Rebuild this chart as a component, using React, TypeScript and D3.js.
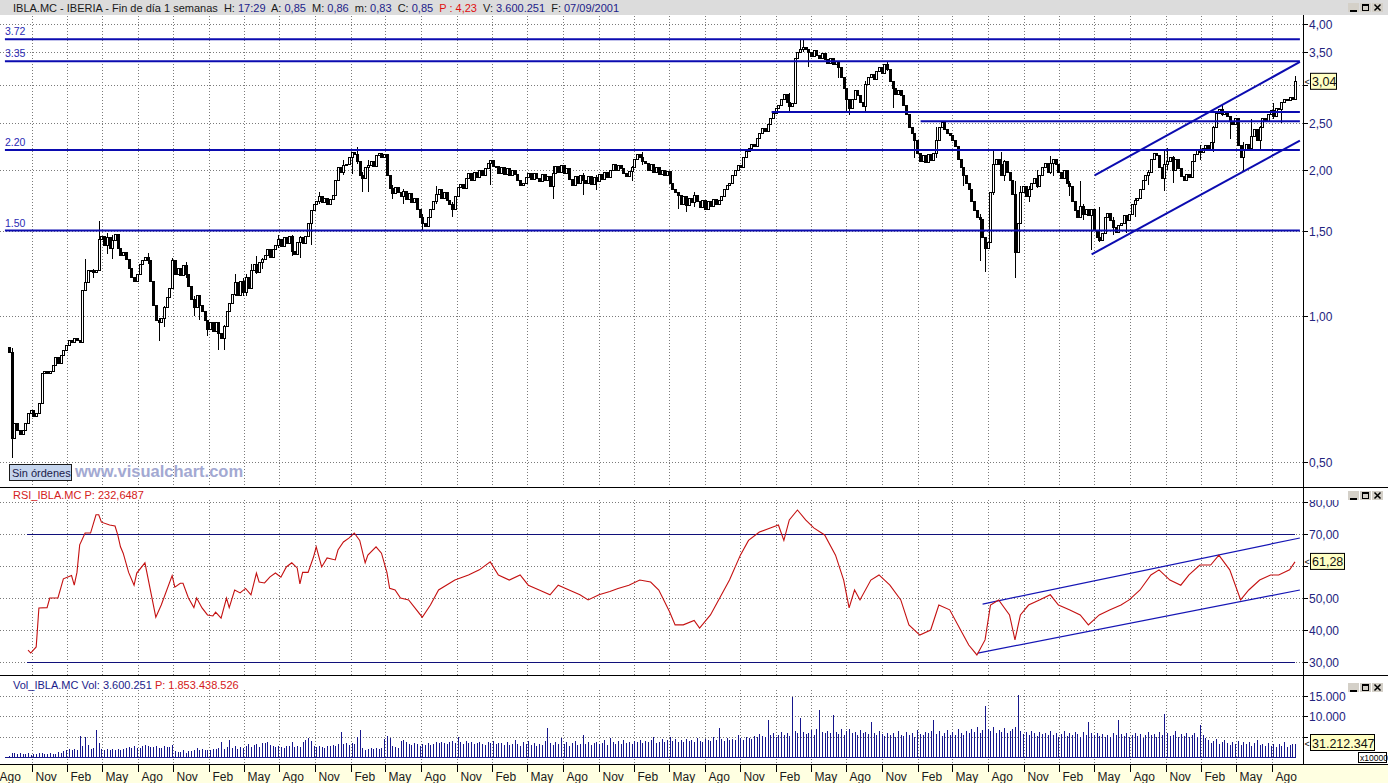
import React, { useEffect, useRef } from 'react';
import * as d3 from 'd3';

// weekly closes, IBLA.MC
const closes = [
  0.84, 0.56,
  0.60, 0.58, 0.57, 0.58, 0.60,
  0.63, 0.64, 0.62, 0.63,
  0.66, 0.76,
  0.77, 0.76, 0.77,
  0.79, 0.82, 0.80, 0.83, 0.85,
  0.87, 0.89, 0.88, 0.90, 0.89, 0.88,
  1.13,
  1.17, 1.24, 1.24, 1.23, 1.24,
  1.44,
  1.46, 1.40, 1.45, 1.38, 1.43, 1.47,
  1.38, 1.33, 1.35, 1.31,
  1.25, 1.20, 1.18, 1.22,
  1.28, 1.30, 1.32, 1.30,
  1.18, 1.05, 0.98,
  0.97, 0.99,
  1.04, 1.09, 1.14,
  1.30, 1.22,
  1.25, 1.21, 1.27, 1.22,
  1.15, 1.08, 1.04, 1.10,
  1.05, 1.02,
  0.98, 0.94, 0.97, 0.93, 0.97, 0.92, 0.90, 0.95,
  1.02, 1.06,
  1.11, 1.17, 1.10, 1.18, 1.12, 1.20, 1.14,
  1.24, 1.28, 1.23, 1.29, 1.31,
  1.33, 1.37, 1.32, 1.37,
  1.40, 1.44, 1.39, 1.45, 1.41, 1.46,
  1.36, 1.34,
  1.42, 1.45, 1.41, 1.46,
  1.55, 1.65, 1.70,
  1.72, 1.76, 1.71, 1.75, 1.70, 1.74, 1.77,
  1.90, 2.02,
  1.98, 2.04, 2.05,
  2.12, 2.17, 2.15,
  2.08, 1.95, 1.92, 2.02,
  2.04, 2.08, 2.03,
  2.14, 2.16, 2.12, 2.15,
  1.95,
  1.83, 1.79, 1.84, 1.80,
  1.76, 1.81, 1.74, 1.79, 1.71, 1.75,
  1.66, 1.60, 1.55, 1.53,
  1.60, 1.66,
  1.72, 1.78, 1.82, 1.75, 1.80, 1.73,
  1.70, 1.66,
  1.76, 1.84, 1.87, 1.83,
  1.92, 1.97, 1.90, 1.98, 1.93, 2.00, 1.95, 2.01,
  2.06, 2.09, 2.03,
  2.03, 1.97, 2.02, 1.96, 2.01, 1.95, 2.00, 1.96,
  1.90, 1.86, 1.88,
  1.93, 1.97, 1.91, 1.97, 1.92, 1.89, 1.96, 1.90, 1.94,
  1.85,
  1.97, 2.03, 1.98, 2.04, 1.97, 2.01,
  1.91, 1.86, 1.94, 1.88, 1.95, 1.90,
  1.88, 1.94, 1.87, 1.93, 1.89,
  1.96, 1.91, 1.98, 1.93,
  2.00, 2.05, 2.00, 2.04, 2.01,
  1.97, 1.94, 1.99, 2.02,
  2.10, 2.15, 2.12, 2.08,
  2.06, 2.00, 2.05, 1.98, 2.02, 1.96, 2.00, 1.95, 1.99,
  1.88, 1.82, 1.80,
  1.77, 1.70, 1.76, 1.69, 1.75, 1.71, 1.77,
  1.72, 1.67, 1.73, 1.66, 1.72, 1.68, 1.74, 1.70,
  1.73, 1.76, 1.82, 1.86, 1.88,
  1.95, 2.00, 2.04, 2.02,
  2.12, 2.18, 2.22, 2.26, 2.24,
  2.32, 2.38, 2.44, 2.40, 2.48,
  2.55, 2.62, 2.68, 2.72,
  2.80, 2.86, 2.76, 2.70, 2.74,
  3.40,
  3.50, 3.55, 3.58, 3.54,
  3.50, 3.42, 3.52, 3.44, 3.40, 3.47,
  3.38, 3.32, 3.40, 3.30, 3.34, 3.26,
  3.10, 2.95, 2.80, 2.68,
  2.80, 2.92, 2.85, 2.76, 2.70,
  3.00, 3.10, 3.15, 3.08,
  3.20, 3.25, 3.16, 3.30, 3.22,
  3.05,
  2.95, 2.86, 2.92, 2.85,
  2.72, 2.60, 2.45, 2.38, 2.30,
  2.16, 2.08, 2.14, 2.07, 2.15, 2.09, 2.16,
  2.30,
  2.45, 2.50, 2.42, 2.38, 2.36,
  2.30, 2.24,
  2.10, 2.02, 1.95, 1.88, 1.82,
  1.72, 1.65, 1.60, 1.58,
  1.45, 1.38, 1.42,
  1.80, 2.05,
  2.10, 2.05, 1.95, 2.08, 1.98,
  1.90, 1.78,
  1.35, 1.55,
  1.80, 1.85, 1.76, 1.82,
  1.88, 1.92, 1.85, 1.95,
  2.02, 2.06, 1.98, 2.06, 2.10, 2.05,
  1.98, 1.92, 2.00, 1.88, 1.85,
  1.72, 1.65, 1.60, 1.68, 1.62,
  1.66, 1.61, 1.66,
  1.50, 1.45, 1.43, 1.48,
  1.60, 1.63, 1.57,
  1.52, 1.49, 1.54, 1.55,
  1.61, 1.57, 1.62,
  1.70, 1.73, 1.75,
  1.82, 1.90, 1.95, 1.98,
  2.10, 2.16, 2.14,
  2.02, 1.92, 2.05,
  2.08, 2.12, 2.00, 2.10, 2.01,
  1.94, 1.90, 1.96, 1.93,
  2.08, 2.15, 2.20, 2.17, 2.22,
  2.25, 2.20, 2.28,
  2.45,
  2.62, 2.66, 2.60, 2.64, 2.58,
  2.52, 2.48, 2.55,
  2.25, 2.12,
  2.20, 2.26, 2.22,
  2.35, 2.42, 2.30, 2.45,
  2.55, 2.52,
  2.60, 2.65, 2.58, 2.68, 2.66,
  2.75, 2.80, 2.78, 2.82,
  2.80, 3.04,
];
const firstOpen = 0.86;

// weeks with visible shadows: [week, high, low]
const shadows: [number, number, number][] = [
  [1, 0.86, 0.51], [28, 1.31, 1.2], [31, 1.25, 1.2], [33, 1.57, 1.24], [36, 1.48, 1.34], [38, 1.47, 1.31],
  [51, 1.35, 1.28], [55, 0.99, 0.89], [57, 1.05, 0.95], [60, 1.32, 1.2], [65, 1.29, 1.2], [68, 1.1, 1.0],
  [70, 1.08, 0.98], [73, 0.97, 0.91], [77, 0.96, 0.85], [79, 0.96, 0.85], [83, 1.22, 1.1], [86, 1.2, 1.1],
  [87, 1.22, 1.1], [89, 1.28, 1.18], [91, 1.33, 1.22], [93, 1.32, 1.25], [99, 1.47, 1.38], [104, 1.47, 1.33],
  [107, 1.46, 1.32], [111, 1.5, 1.4], [114, 1.8, 1.7], [123, 2.1, 1.95], [126, 2.18, 1.96], [128, 2.23, 2.06],
  [130, 1.98, 1.8], [132, 2.1, 1.8], [141, 1.86, 1.74], [145, 1.83, 1.7], [152, 1.62, 1.5], [157, 1.85, 1.7],
  [163, 1.72, 1.6], [177, 2.1, 1.86], [200, 2.04, 1.74], [211, 1.97, 1.78], [216, 1.95, 1.82],
  [229, 2.04, 1.9], [233, 2.18, 2.05], [246, 1.78, 1.66], [249, 1.76, 1.64], [252, 1.8, 1.68],
  [287, 2.88, 2.64], [291, 3.71, 3.48], [292, 3.71, 3.5], [294, 3.52, 3.26], [305, 3.36, 3.1],
  [308, 2.95, 2.62], [309, 2.8, 2.6], [315, 3.05, 2.62], [323, 3.35, 3.2], [325, 2.98, 2.69],
  [333, 2.38, 2.12], [341, 2.45, 2.12], [351, 1.98, 1.85], [357, 1.62, 1.3], [359, 1.45, 1.23],
  [362, 2.21, 1.78], [365, 2.18, 1.94], [366, 2.1, 1.9], [370, 1.9, 1.2], [372, 1.85, 1.57],
  [375, 1.85, 1.72], [378, 2.0, 1.84], [383, 2.14, 1.96], [384, 2.1, 1.94], [390, 1.9, 1.77],
  [394, 1.9, 1.6], [395, 1.7, 1.58], [398, 1.66, 1.37], [401, 1.68, 1.42], [406, 1.6, 1.47],
  [411, 1.58, 1.48], [414, 1.75, 1.6], [419, 2.0, 1.86], [425, 2.2, 1.81], [426, 2.22, 2.0],
  [428, 2.14, 1.88], [438, 2.25, 2.1], [443, 2.47, 2.18], [446, 2.74, 2.58], [449, 2.56, 2.32],
  [454, 2.28, 1.98], [457, 2.55, 2.28], [460, 2.47, 2.2], [465, 2.75, 2.55], [468, 2.72, 2.5],
  [473, 3.12, 2.8],
];

// drawn support / resistance: [price, fromWeek, toWeek]
const levels: [number, number, number][] = [
  [3.72, -1.5, 474.8], [3.35, -1.5, 474.8], [2.2, -1.5, 474.8], [1.5, -1.5, 474.8],
  [2.635, 280.5, 474.8], [2.52, 335.3, 474.8],
];
const levelLabels = ['3.72', '3.35', '2.20', '1.50'];
const priceChannel: [number, number][][] = [
  [[399.3, 1.95], [474.8, 3.34]],
  [[398.2, 1.34], [474.8, 2.3]],
];
const priceTicks = [0.5, 1, 1.5, 2, 2.5, 3, 3.5, 4];
const priceTickLabels = ['0,50', '1,00', '1,50', '2,00', '2,50', '', '3,50', '4,00'];

// RSI: [week, value]
const rsi: [number, number][] = [
  [7, 33.7], [8, 32.8], [10, 34.7], [11, 46.9], [14, 47], [15, 50], [18, 50], [20, 56], [23, 57],
  [24, 54], [25, 58], [26, 66.6], [28, 70.3], [30, 70.3], [32, 76], [33, 76], [34, 73.7], [37, 72.8],
  [39, 72.5], [40, 69.7], [41, 66], [42, 64], [44, 58], [46, 54], [47, 57.8], [50, 61], [54, 44],
  [56, 47.8], [60, 57], [61, 53.4], [63, 54.6], [64, 54.6], [66, 50], [68, 47], [69, 50], [71, 46.9],
  [73, 44.7], [75, 44.4], [76, 45.6], [78, 43.7], [80, 50], [81, 47], [83, 52.5], [85, 51.6], [87, 53],
  [89, 51], [91, 57.8], [92, 55], [94, 54.7], [96, 56.6], [98, 57.8], [100, 56.5], [102, 59.7],
  [104, 61], [106, 59.4], [107, 54.4], [108, 58], [110, 58], [112, 62.8], [113, 66], [115, 59.7],
  [117, 62.5], [120, 61.9], [121, 65], [123, 67.5], [125, 68.7], [127, 70.3], [129, 68], [131, 61],
  [132, 63.4], [135, 66], [137, 64], [139, 58], [140, 53], [142, 52.5], [144, 50], [147, 49.4],
  [152, 44], [155, 47.8], [158, 52.5], [164, 55.6], [169, 57.2], [173, 58.8], [177, 61.3],
  [180, 57.2], [184, 55.6], [188, 57.2], [191, 54], [195, 52.5], [199, 51], [202, 54], [206, 52.5],
  [210, 51], [213, 49.4], [217, 51], [221, 52], [224, 53], [228, 54], [232, 55.6], [236, 55],
  [239, 52.5], [243, 45.6], [245, 41.6], [248, 41.6], [252, 43], [254, 40.6], [258, 44.7],
  [261, 49.4], [265, 55.6], [269, 63.4], [272, 68], [276, 70.6], [280, 71.9], [283, 72.8], [285, 68],
  [287, 74.4], [290, 77.5], [293, 74.4], [296, 71.9], [300, 69.7], [304, 63.4], [307, 55.6],
  [309, 46.9], [311, 52.5], [313, 49.4], [317, 55.6], [320, 57.2], [324, 54], [328, 49.4],
  [331, 41.6], [335, 38.4], [339, 40], [342, 47.8], [346, 46.3], [350, 40], [353, 35.3], [356, 32.2],
  [359, 36.9], [361, 47.8], [364, 49.4], [368, 44.7], [370, 36.9], [372, 44.7], [375, 47.8],
  [379, 49.4], [383, 51], [386, 47.8], [390, 46.3], [394, 44.7], [397, 41.6], [401, 44.7],
  [405, 46.3], [409, 47.8], [412, 49.4], [416, 52.5], [420, 57.2], [423, 58.8], [427, 55.6], [431, 54],
  [434, 57.2], [438, 60.3], [442, 60.3], [445, 63.4], [449, 58.8], [453, 49.4], [456, 52.5],
  [460, 55.6], [464, 57.2], [467, 57.2], [471, 58.8], [473, 61.28],
];
const rsiLevels: [number, number, number][] = [[70, 6.6, 473], [30, 6.6, 473]];
const rsiChannel: [number, number][][] = [
  [[358.1, 48.1], [474.8, 68.75]],
  [[356.3, 32.8], [474.8, 52.5]],
];
const rsiTicks = [30, 40, 50, 60, 70, 80];
const rsiTickLabels = ['30,00', '40,00', '50,00', '', '70,00', '80,00'];

// weekly volume, in units of 10000 shares
const volume = [
  300, 1100, 900, 800, 1000, 700, 800, 900, 600, 700, 800, 1100, 900, 700, 800, 1000, 800, 700, 1200, 900,
  1500, 1800, 2000, 1600, 1900, 1700,
  5100, 2700, 5000, 3000, 2000, 2200, 6600, 3400,
  1900, 1800, 2000, 1700, 1900, 1800, 2000, 1700, 1900,
  2300, 2500, 2100, 2600, 2200,
  2300, 2800, 2900, 2700, 2400, 2500, 2600, 2300, 2200, 2700, 2400, 2500,
  3000,
  1500, 1200, 1300, 1700, 1100, 1500, 1400, 1800,
  2100, 1800, 2000, 1600, 1800, 1700, 2000, 1900,
  2200, 3700, 2000, 2400, 4100,
  2200, 2600, 1900, 2500, 2300,
  2800, 3300, 2400, 2900, 3300, 2500, 3500, 3400, 3600,
  2900, 2600, 2400, 2700, 2500, 2300, 2800, 2600,
  3800, 2400, 2700, 2500,
  3600, 4300, 4700, 3900,
  2600, 2400, 2800, 2500, 2300, 2700, 2600, 2900,
  2700, 3100, 6200, 3200, 3500, 3000, 3400, 3100, 5000, 6600,
  2200, 1800, 2000, 2100, 1900, 2300, 2000, 2200, 4500, 5100, 4700, 2600, 2400, 2200,
  3900, 4200, 3600,
  3200, 2900, 3400, 3100, 2800, 3300, 3000, 3500, 2900, 3200,
  3600, 3400, 3800, 3500, 3300, 3700, 3900, 3400, 5000,
  3600, 3200, 3900, 3400, 3700, 3100, 3500, 3800, 3300, 3000, 3600, 3400, 3900, 3200, 3500,
  3400, 3000, 3700, 2900, 3300, 4100, 3100, 2800, 3600, 3200,
  3900, 3000, 3500, 2700, 3300, 2900, 4000, 7100, 3400, 3000,
  3700, 3200, 4700, 3100, 3600, 2800, 3400, 3900, 3000, 3300,
  5400, 3100, 3600, 2900, 3400, 3800, 3200, 3500, 4100, 3000,
  4700, 3600, 3300, 3900, 3100, 4200, 3500, 3800, 3200, 4000,
  3600, 4300, 3400, 3900, 3700, 4100, 5000, 3500, 3800, 4400,
  3600, 4200, 4900, 3900, 4500, 3700, 4100, 3600, 4400, 3900,
  4300, 3800, 4600, 4000, 3700, 4500, 4100, 3900, 4800, 4200,
  7100, 4400, 3900, 4700, 4100, 4500, 4300, 5500, 4600, 4200,
  5000, 4700, 4400, 5200, 4800, 5600, 5100, 4900, 9100, 5300,
  5800, 5000, 5500, 6100, 5400, 5900, 5200, 14700, 6300, 5800,
  9600, 6200, 5700, 6000, 6600, 5500, 6800, 11500, 6100, 5800,
  6400, 5900, 10300, 6200, 5600, 6900, 5400, 6300, 7000, 5800,
  6100, 5500, 6600, 5900, 6200, 5700, 8600, 6000, 5400, 6300,
  5600, 5100, 6000, 5300, 5800, 4900, 6400, 5500, 5200, 6100,
  5400, 5900, 5000, 6700, 5600, 5300, 6200, 5800, 6500, 9100,
  5700, 6300, 5200, 5900, 6600, 5400, 6100, 5500, 6800, 6000,
  5300, 6400, 5800, 6900, 6200, 7300, 6000, 6600, 12500, 7000,
  6400, 7500, 5900, 6700, 6100, 7200, 5800, 6500, 6900, 7400,
  15200, 6300, 5700, 6100, 5400, 6400, 5800, 5200, 6200, 5600,
  5900, 5300, 6300, 5500, 6000, 4900, 5700, 6400, 5100, 5800,
  5400, 6100, 5600, 5000, 6200, 5500, 8600, 5900, 5300, 6000,
  5200, 5700, 5000, 5500, 4800, 5900, 5300, 9100, 5600, 5100,
  5800, 4900, 5400, 6000, 5200, 5600, 4700, 5500, 6100, 5300,
  5700, 5000, 6200, 5400, 10600, 5800, 5100, 5500, 6300, 4900,
  5600, 5200, 6000, 4800, 5400, 5900, 5000, 7900, 5300, 4600,
  4100, 3400, 3900, 4500, 3200, 3700, 4200, 3500, 3000, 3800,
  3300, 4000, 2900, 3600, 3100, 3800, 2700, 3400, 4100, 2900,
  3200, 2600, 3500, 2800, 3300, 2500, 3100, 2700, 3600, 2400,
  2900, 3200, 3121,
];
const volTicks = [5000, 10000, 15000];
const volTickLabels = ['', '10.000', '15.000'];

const monthNames = ['Ene', 'Feb', 'Mar', 'Abr', 'May', 'Jun', 'Jul', 'Ago', 'Sep', 'Oct', 'Nov', 'Dic'];

const FONT = '"Liberation Sans", Arial, sans-serif';
const NAVY = '#1c1c8a';
const LINE_BLUE = '#0b0bb0';
const AXIS_X = 1303.5;

const App = () => {
  const svgRef = useRef(null);

  useEffect(() => {
    if (!svgRef.current) return;
    const svg = d3.select(svgRef.current);
    svg.selectAll('*').remove();

    const n = closes.length;
    const x = d3.scaleLinear().domain([0, n - 1]).range([9, 1295]);
    const xTime = d3.scaleTime()
      .domain([new Date(1992, 10, 1), new Date(2001, 7, 1)])
      .range([31.7, 1271.7]);
    const yP = d3.scaleLog().domain([0.5, 4]).range([462, 24]);
    const yR = d3.scaleLinear().domain([30, 80]).range([662, 502]);
    const yV = d3.scaleLinear().domain([0, 15000]).range([757, 696]);

    svg.append('rect').attr('width', 1388).attr('height', 783).attr('fill', '#fff');

    const defs = svg.append('defs');
    defs.append('clipPath').attr('id', 'cp-price').append('rect')
      .attr('x', 0).attr('y', 15).attr('width', AXIS_X).attr('height', 472);
    defs.append('clipPath').attr('id', 'cp-rsi').append('rect')
      .attr('x', 0).attr('y', 488).attr('width', AXIS_X).attr('height', 187);
    defs.append('clipPath').attr('id', 'cp-raxis').append('rect')
      .attr('x', AXIS_X).attr('y', 500).attr('width', 90).attr('height', 175);

    // title bar
    svg.append('rect').attr('x', 0).attr('y', 0).attr('width', 1388).attr('height', 15).attr('fill', '#dcdcdc');
    const title = svg.append('text').attr('x', 13).attr('y', 11.5)
      .attr('font-family', FONT).attr('font-size', 11).attr('fill', '#1a1a1a');
    const titleParts: [string, string][] = [
      ['IBLA.MC - IBERIA - Fin de día 1 semanas  H: ', '#1a1a1a'], ['17:29', NAVY],
      ['  A: ', '#1a1a1a'], ['0,85', NAVY], ['  M: ', '#1a1a1a'], ['0,86', NAVY],
      ['  m: ', '#1a1a1a'], ['0,83', NAVY], ['  C: ', '#1a1a1a'], ['0,85', NAVY],
      ['  P : 4,23', '#e01010'], ['  V: ', '#1a1a1a'], ['3.600.251', NAVY],
      ['  F: ', '#1a1a1a'], ['07/09/2001', NAVY],
    ];
    titleParts.forEach(([t, c]) => title.append('tspan').attr('fill', c).attr('xml:space', 'preserve').text(t));

    // window buttons
    const buttons = (y0: number) => {
      const g = svg.append('g').attr('stroke', '#000').attr('fill', 'none').attr('shape-rendering', 'crispEdges');
      [1348, 1360, 1372].forEach((bx) =>
        g.append('rect').attr('x', bx).attr('y', y0).attr('width', 11).attr('height', 9)
          .attr('fill', '#d4d0c8').attr('stroke', 'none'));
      g.append('line').attr('x1', 1350).attr('x2', 1357).attr('y1', y0 + 7.5).attr('y2', y0 + 7.5).attr('stroke-width', 2);
      g.append('rect').attr('x', 1362.5).attr('y', y0 + 1.5).attr('width', 6).attr('height', 6);
      g.append('line').attr('x1', 1362.5).attr('x2', 1368.5).attr('y1', y0 + 2).attr('y2', y0 + 2).attr('stroke-width', 1.5);
      g.append('path').attr('d', `M${1374.5},${y0 + 1.5}L${1380.5},${y0 + 7.5}M${1380.5},${y0 + 1.5}L${1374.5},${y0 + 7.5}`)
        .attr('stroke-width', 1.5).attr('shape-rendering', 'auto');
    };
    buttons(3);
    buttons(491);
    buttons(683);

    const months = d3.timeMonths(new Date(1992, 7, 1), new Date(2001, 8, 1), 3);

    const dotted = (g, x1, x2, y1, y2) =>
      g.append('line').attr('x1', x1).attr('x2', x2).attr('y1', y1).attr('y2', y2)
        .attr('stroke', '#7a7a7a').attr('stroke-width', 1).attr('stroke-dasharray', '1,2')
        .attr('shape-rendering', 'crispEdges');

    // vertical grid in all three panes
    const vg = svg.append('g');
    months.forEach((d) => {
      const xx = Math.round(xTime(d)) + 0.5;
      if (xx < 2) return;
      dotted(vg, xx, xx, 16, 487);
      dotted(vg, xx, xx, 500, 675);
      dotted(vg, xx, xx, 690, 764);
    });

    // ---------- price pane ----------
    const pg = svg.append('g').attr('clip-path', 'url(#cp-price)');
    priceTicks.forEach((p) => {
      const yy = Math.round(yP(p)) + 0.5;
      dotted(pg, 0, AXIS_X, yy, yy);
    });

    const candles = closes.map((c, i) => {
      const o = i === 0 ? firstOpen : closes[i - 1];
      const s = shadows.find((d) => d[0] === i);
      return { i, o, c, h: s ? Math.max(s[1], o, c) : Math.max(o, c), l: s ? Math.min(s[2], o, c) : Math.min(o, c) };
    });
    const cg = pg.append('g').attr('shape-rendering', 'crispEdges');
    candles.forEach((d) => {
      const cx = Math.round(x(d.i)) + 0.5;
      cg.append('line').attr('x1', cx).attr('x2', cx).attr('y1', yP(d.h)).attr('y2', yP(d.l))
        .attr('stroke', '#000');
      const top = yP(Math.max(d.o, d.c));
      const bot = yP(Math.min(d.o, d.c));
      cg.append('rect').attr('x', cx - 1).attr('y', top).attr('width', 2).attr('height', Math.max(1, bot - top))
        .attr('fill', d.c < d.o ? '#000' : '#fff').attr('stroke', '#000').attr('stroke-width', 1);
    });

    levels.forEach(([p, a, b]) => {
      pg.append('line').attr('x1', x(a)).attr('x2', x(b)).attr('y1', yP(p)).attr('y2', yP(p))
        .attr('stroke', LINE_BLUE).attr('stroke-width', 2);
    });
    priceChannel.forEach((seg) => {
      pg.append('line').attr('x1', x(seg[0][0])).attr('y1', yP(seg[0][1]))
        .attr('x2', x(seg[1][0])).attr('y2', yP(seg[1][1]))
        .attr('stroke', LINE_BLUE).attr('stroke-width', 2);
    });
    levelLabels.forEach((t, k) => {
      svg.append('text').attr('x', 5).attr('y', yP(levels[k][0]) - 4)
        .attr('font-family', FONT).attr('font-size', 10.5).attr('fill', '#2a2ab4').text(t);
    });

    // sin ordenes + watermark
    svg.append('rect').attr('x', 9.5).attr('y', 464.5).attr('width', 62).attr('height', 16)
      .attr('fill', '#c5d5ee').attr('stroke', '#1a1a1a');
    svg.append('text').attr('x', 12).attr('y', 477).attr('font-family', FONT).attr('font-size', 11)
      .attr('fill', '#1a1a4a').text('Sin órdenes');
    svg.append('text').attr('x', 75).attr('y', 477).attr('font-family', FONT).attr('font-size', 16.5)
      .attr('font-weight', 'bold').attr('fill', '#a3a9d2').text('www.visualchart.com');

    // price axis
    const pa = svg.append('g').attr('font-family', FONT).attr('font-size', 12).attr('fill', '#23237e');
    priceTicks.forEach((p, k) => {
      const yy = Math.round(yP(p)) + 0.5;
      pa.append('line').attr('x1', AXIS_X).attr('x2', AXIS_X + 4).attr('y1', yy).attr('y2', yy)
        .attr('stroke', '#000').attr('shape-rendering', 'crispEdges');
      if (priceTickLabels[k]) pa.append('text').attr('x', 1309).attr('y', yy + 4.5).text(priceTickLabels[k]);
    });

    const valueBox = (yc: number, label: string, w: number) => {
      svg.append('text').attr('x', 1304.5).attr('y', yc + 3.5).attr('font-family', FONT).attr('font-size', 9)
        .attr('fill', '#000').text('<');
      svg.append('rect').attr('x', 1310.5).attr('y', yc - 8.5).attr('width', w).attr('height', 16)
        .attr('fill', '#ffffc4').attr('stroke', '#000');
      svg.append('text').attr('x', 1312).attr('y', yc + 4.5).attr('font-family', FONT).attr('font-size', 12.5)
        .attr('fill', '#111').text(label);
    };
    valueBox(yP(closes[n - 1]), '3,04', 26);

    // ---------- RSI pane ----------
    svg.append('text').attr('x', 13).attr('y', 499).attr('font-family', FONT).attr('font-size', 11)
      .attr('fill', '#d42020').text('RSI_IBLA.MC  P: 232,6487');
    const rg = svg.append('g').attr('clip-path', 'url(#cp-rsi)');
    rsiTicks.forEach((v) => {
      const yy = Math.round(yR(v)) + 0.5;
      dotted(rg, 0, AXIS_X, yy, yy);
    });
    rsiLevels.forEach(([v, a, b]) => {
      const yy = Math.round(yR(v)) + 0.5;
      rg.append('line').attr('x1', x(a)).attr('x2', x(b)).attr('y1', yy).attr('y2', yy)
        .attr('stroke', '#10107a').attr('stroke-width', 1).attr('shape-rendering', 'crispEdges');
    });
    rsiChannel.forEach((seg) => {
      rg.append('line').attr('x1', x(seg[0][0])).attr('y1', yR(seg[0][1]))
        .attr('x2', x(seg[1][0])).attr('y2', yR(seg[1][1]))
        .attr('stroke', '#1515b5').attr('stroke-width', 1.2);
    });
    const rsiLine = d3.line<[number, number]>().x((d) => x(d[0])).y((d) => yR(d[1]));
    rg.append('path').datum(rsi).attr('d', rsiLine).attr('fill', 'none')
      .attr('stroke', '#c41010').attr('stroke-width', 1.1);

    const ra = svg.append('g').attr('clip-path', 'url(#cp-raxis)').attr('font-family', FONT)
      .attr('font-size', 12).attr('fill', '#23237e');
    rsiTicks.forEach((v, k) => {
      const yy = Math.round(yR(v)) + 0.5;
      ra.append('line').attr('x1', AXIS_X).attr('x2', AXIS_X + 4).attr('y1', yy).attr('y2', yy)
        .attr('stroke', '#000').attr('shape-rendering', 'crispEdges');
      if (rsiTickLabels[k]) ra.append('text').attr('x', 1309).attr('y', yy + 4.5).text(rsiTickLabels[k]);
    });
    valueBox(yR(rsi[rsi.length - 1][1]), '61,28', 34);

    // ---------- volume pane ----------
    const vt = svg.append('text').attr('x', 13).attr('y', 689).attr('font-family', FONT).attr('font-size', 11);
    vt.append('tspan').attr('fill', NAVY).text('Vol_IBLA.MC  Vol: 3.600.251  ');
    vt.append('tspan').attr('fill', '#d42020').text('P: 1.853.438.526');

    const vgp = svg.append('g');
    volTicks.forEach((v) => {
      const yy = Math.round(yV(v)) + 0.5;
      dotted(vgp, 0, AXIS_X, yy, yy);
    });
    const bars = svg.append('g').attr('stroke', '#16168c').attr('shape-rendering', 'crispEdges');
    volume.forEach((v, i) => {
      const cx = Math.round(x(i)) + 0.5;
      bars.append('line').attr('x1', cx).attr('x2', cx).attr('y1', yV(0)).attr('y2', yV(v));
    });
    bars.append('line').attr('x1', 5).attr('x2', 1296).attr('y1', Math.round(yV(0)) + 0.5).attr('y2', Math.round(yV(0)) + 0.5);

    const va = svg.append('g').attr('font-family', FONT).attr('font-size', 12).attr('fill', '#23237e');
    volTicks.forEach((v, k) => {
      const yy = Math.round(yV(v)) + 0.5;
      va.append('line').attr('x1', AXIS_X).attr('x2', AXIS_X + 4).attr('y1', yy).attr('y2', yy)
        .attr('stroke', '#000').attr('shape-rendering', 'crispEdges');
      if (volTickLabels[k]) va.append('text').attr('x', 1309).attr('y', yy + 4.5).text(volTickLabels[k]);
    });
    valueBox(743, '31.212.347', 64);
    svg.append('rect').attr('x', 1358.5).attr('y', 752.5).attr('width', 28).attr('height', 10)
      .attr('fill', '#fff').attr('stroke', '#000');
    svg.append('text').attr('x', 1360).attr('y', 760.5).attr('font-family', FONT).attr('font-size', 8.5)
      .attr('fill', '#000').text('x10000');

    // ---------- date axis ----------
    svg.append('rect').attr('x', 0).attr('y', 765).attr('width', 1388).attr('height', 18).attr('fill', '#ffffe1');
    const xa = svg.append('g').attr('font-family', FONT).attr('font-size', 12).attr('fill', '#1a1a1a');
    months.forEach((d) => {
      const xx = Math.round(xTime(d)) + 0.5;
      xa.append('line').attr('x1', xx).attr('x2', xx).attr('y1', 765).attr('y2', 772)
        .attr('stroke', '#000').attr('shape-rendering', 'crispEdges');
      xa.append('text').attr('x', xx + 3).attr('y', 781).text(monthNames[d.getMonth()]);
    });

    // frame lines
    const fr = svg.append('g').attr('stroke', '#000').attr('shape-rendering', 'crispEdges');
    fr.append('line').attr('x1', AXIS_X).attr('x2', AXIS_X).attr('y1', 15).attr('y2', 765);
    [487.5, 675.5, 764.5].forEach((yy) =>
      fr.append('line').attr('x1', 0).attr('x2', 1388).attr('y1', yy).attr('y2', yy));
  }, []);

  return (
    <div style={{ position: 'absolute', left: 0, top: 0, width: 1388, height: 783, background: '#fff' }}>
      <svg ref={svgRef} width={1388} height={783} style={{ display: 'block' }} />
    </div>
  );
};

export default App;
